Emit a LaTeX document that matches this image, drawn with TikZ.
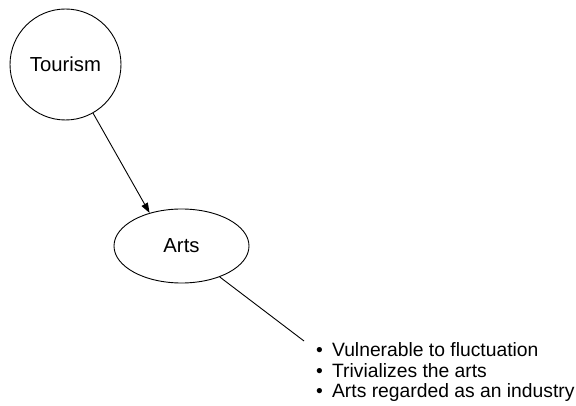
\documentclass[tikz,border=0pt]{standalone}
\usepackage{fontspec}
\setmainfont{Liberation Sans}
\usetikzlibrary{arrows.meta,shapes.geometric}
\begin{document}
\begin{tikzpicture}[x=1pt,y=-1pt,
  line width=0.9pt,
  concept/.style={draw=black, inner sep=0pt, font=\fontsize{20.3}{22}\selectfont},
  bulletline/.style={anchor=base west, inner sep=0pt, font=\fontsize{19.3}{20.6}\selectfont},
  link/.style={draw=black, line width=0.9pt},
  tip/.style={-{Triangle[length=10pt,width=7pt]}}]
  \useasboundingbox (0,0) rectangle (576,406);

  % concept nodes
  \node[concept, circle, minimum size=111pt] (tourism) at (65.5,64.5) {Tourism};
  \node[concept, ellipse, minimum width=135pt, minimum height=74pt] (arts) at (181.5,246) {Arts};

  % free end of the note connector
  \coordinate (noteend) at (304,341);

  % list of effects
  \node[bulletline] (n1) at (315.6,356.7) {•\hspace{9.3pt}Vulnerable to fluctuation};
  \node[bulletline] (n2) at (315.6,377.3) {•\hspace{9.3pt}Trivializes the arts};
  \node[bulletline] (n3) at (315.6,397.9) {•\hspace{9.3pt}Arts regarded as an industry};

  % connectors
  \draw[link, tip] (tourism) -- (arts.134);
  \draw[link] (arts.-39.6) -- (noteend);
\end{tikzpicture}
\end{document}
